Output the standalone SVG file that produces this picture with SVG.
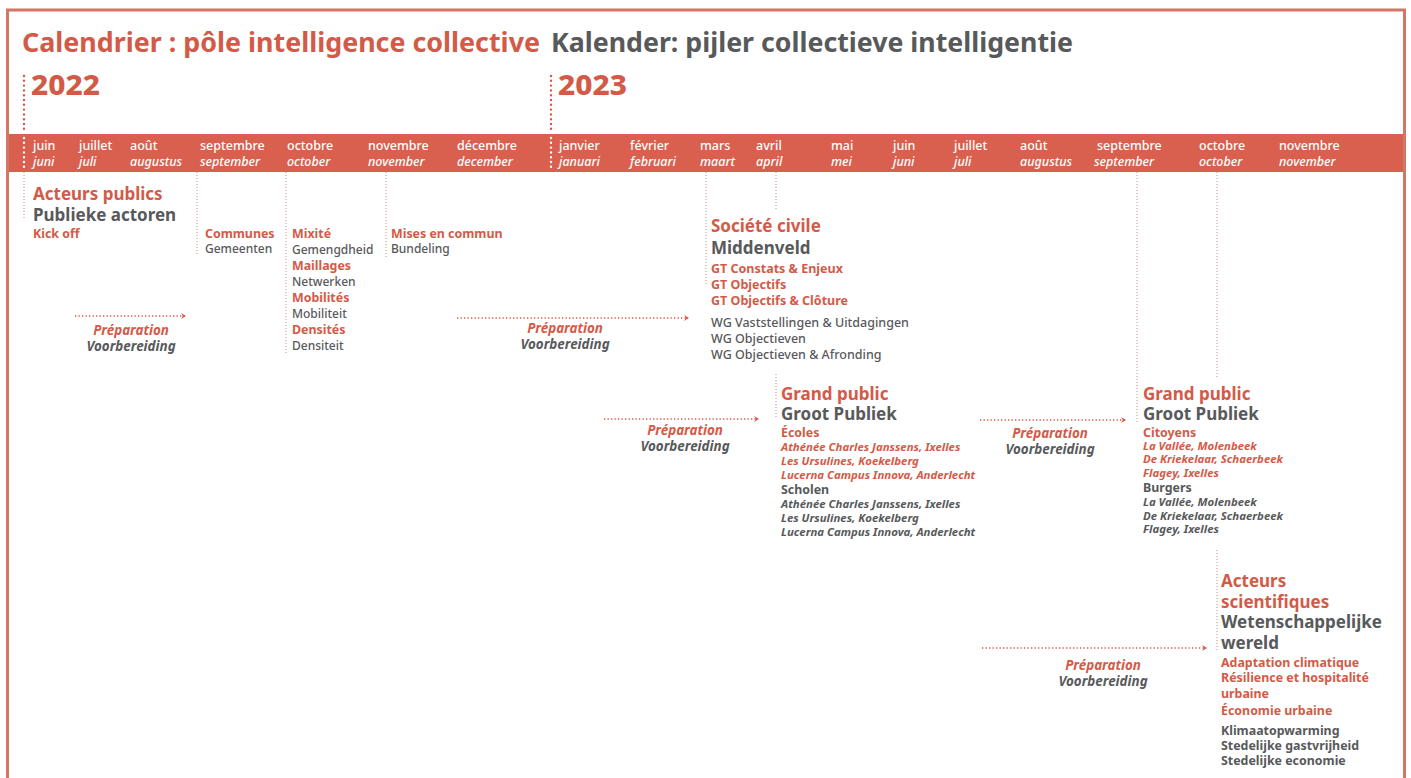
<svg xmlns="http://www.w3.org/2000/svg" width="1411" height="778" viewBox="0 0 1411 778">
<style>
text{font-family:"Noto Sans","Open Sans","DejaVu Sans",sans-serif}
.c{fill:#d45a48}
.g{fill:#58595b}
.w{fill:#ffffff}
.title{font-size:26px;font-weight:700}
.year{font-size:28px;font-weight:800}
.m{font-size:12.5px;font-weight:500}
.mi{font-size:12.5px;font-weight:500;font-style:italic}
.h{font-size:17px;font-weight:700}
.h2{font-size:17px;font-weight:700}
.b{font-size:12.4px;font-weight:700}
.r{font-size:12px;font-weight:500}
.r13{font-size:12.5px;font-weight:500}
.b13{font-size:12.5px;font-weight:700}
.it{font-size:11.4px;font-weight:700;font-style:italic}
.p{font-size:13.4px;font-weight:700;font-style:italic;text-anchor:middle}
.vl{stroke:#c98a7f;stroke-width:1;stroke-dasharray:1 2;fill:none}
.yd{stroke-width:2.4;stroke-linecap:round;stroke-dasharray:0 4.8;fill:none}
.arr{stroke:#d45a48;stroke-width:1.3;stroke-dasharray:1.3 2.2;fill:none;marker-end:url(#ah)}
</style>
<defs>
<marker id="ah" markerWidth="7" markerHeight="7" refX="4" refY="3" orient="auto" markerUnits="userSpaceOnUse">
<path d="M0,0 L5,3 L0,6 L1.8,3 z" fill="#d45a48"/>
</marker>
</defs>
<rect x="0" y="0" width="1411" height="778" fill="#ffffff"/>
<rect id="frame" x="7.5" y="10" width="1397" height="800" fill="none" stroke="#d27765" stroke-width="3"/>
<g id="title">
<text x="22" y="52" class="title c" textLength="518" lengthAdjust="spacingAndGlyphs">Calendrier : pôle intelligence collective</text>
<text x="551" y="52" class="title g" textLength="522" lengthAdjust="spacingAndGlyphs">Kalender: pijler collectieve intelligentie</text>
</g>
<g id="timeline">
<rect x="9" y="134" width="1394" height="38" fill="#d9604e"/>
<text x="31" y="95" class="year c" textLength="69" lengthAdjust="spacingAndGlyphs">2022</text>
<text x="558" y="95" class="year c" textLength="69" lengthAdjust="spacingAndGlyphs">2023</text>
<path class="yd" d="M24,76 V132" stroke="#d45a48"/>
<path class="yd" d="M24,138 V170" stroke="#ffffff"/>
<path class="yd" d="M551,76 V132" stroke="#d45a48"/>
<path class="yd" d="M551,138 V170" stroke="#ffffff"/>
<g class="w">
<text x="33" y="150" class="m">juin</text><text x="33" y="166" class="mi">juni</text>
<text x="79" y="150" class="m">juillet</text><text x="79" y="166" class="mi">juli</text>
<text x="130" y="150" class="m">août</text><text x="130" y="166" class="mi">augustus</text>
<text x="200" y="150" class="m">septembre</text><text x="200" y="166" class="mi">september</text>
<text x="287" y="150" class="m">octobre</text><text x="287" y="166" class="mi">october</text>
<text x="368" y="150" class="m">novembre</text><text x="368" y="166" class="mi">november</text>
<text x="457" y="150" class="m">décembre</text><text x="457" y="166" class="mi">december</text>
<text x="559" y="150" class="m">janvier</text><text x="559" y="166" class="mi">januari</text>
<text x="630" y="150" class="m">février</text><text x="630" y="166" class="mi">februari</text>
<text x="700" y="150" class="m">mars</text><text x="700" y="166" class="mi">maart</text>
<text x="756" y="150" class="m">avril</text><text x="756" y="166" class="mi">april</text>
<text x="831" y="150" class="m">mai</text><text x="831" y="166" class="mi">mei</text>
<text x="893" y="150" class="m">juin</text><text x="893" y="166" class="mi">juni</text>
<text x="954" y="150" class="m">juillet</text><text x="954" y="166" class="mi">juli</text>
<text x="1020" y="150" class="m">août</text><text x="1020" y="166" class="mi">augustus</text>
<text x="1097" y="150" class="m">septembre</text><text x="1094" y="166" class="mi">september</text>
<text x="1199" y="150" class="m">octobre</text><text x="1199" y="166" class="mi">october</text>
<text x="1279" y="150" class="m">novembre</text><text x="1279" y="166" class="mi">november</text>
</g>
</g>
<g id="connectors">
<path class="vl" d="M24,172 V220"/>
<path class="vl" d="M197,172 V255"/>
<path class="vl" d="M286,172 V355"/>
<path class="vl" d="M386,172 V258"/>
<path class="vl" d="M706,172 V285"/>
<path class="vl" d="M776,172 V209"/>
<path class="vl" d="M776,374 V418"/>
<path class="vl" d="M1137,172 V422"/>
<path class="vl" d="M1217,172 V377"/>
<path class="vl" d="M1217,550 V650"/>
<path class="arr" d="M75,316 H185"/>
<path class="arr" d="M457,318 H688"/>
<path class="arr" d="M604,419 H758"/>
<path class="arr" d="M980,420 H1125"/>
<path class="arr" d="M982,648 H1206"/>
</g>
<g id="acteurs-publics">
<text x="33" y="200" class="h c">Acteurs publics</text>
<text x="33" y="221" class="h2 g">Publieke actoren</text>
<text x="33" y="238" class="b c">Kick off</text>
</g>
<g id="communes">
<text x="205" y="238" class="b c">Communes</text>
<text x="205" y="253" class="r g">Gemeenten</text>
</g>
<g id="mixite">
<text x="292" y="238" class="b c">Mixité</text>
<text x="292" y="254" class="r g">Gemengdheid</text>
<text x="292" y="270" class="b c">Maillages</text>
<text x="292" y="286" class="r g">Netwerken</text>
<text x="292" y="302" class="b c">Mobilités</text>
<text x="292" y="318" class="r g">Mobiliteit</text>
<text x="292" y="334" class="b c">Densités</text>
<text x="292" y="350" class="r g">Densiteit</text>
</g>
<g id="mises-en-commun">
<text x="391" y="238" class="b c">Mises en commun</text>
<text x="391" y="253" class="r g">Bundeling</text>
</g>
<g id="prep-1">
<text x="131" y="335" class="p c">Préparation</text>
<text x="131" y="351" class="p g">Voorbereiding</text>
</g>
<g id="prep-2">
<text x="565" y="333" class="p c">Préparation</text>
<text x="565" y="349" class="p g">Voorbereiding</text>
</g>
<g id="societe-civile">
<text x="711" y="232" class="h c">Société civile</text>
<text x="711" y="254" class="h2 g">Middenveld</text>
<text x="711" y="273" class="b13 c">GT Constats &amp; Enjeux</text>
<text x="711" y="289" class="b13 c">GT Objectifs</text>
<text x="711" y="305" class="b13 c">GT Objectifs &amp; Clôture</text>
<text x="711" y="327" class="r13 g">WG Vaststellingen &amp; Uitdagingen</text>
<text x="711" y="343" class="r13 g">WG Objectieven</text>
<text x="711" y="359" class="r13 g">WG Objectieven &amp; Afronding</text>
</g>
<g id="prep-3">
<text x="685" y="435" class="p c">Préparation</text>
<text x="685" y="451" class="p g">Voorbereiding</text>
</g>
<g id="grand-public-ecoles">
<text x="781" y="400" class="h c">Grand public</text>
<text x="781" y="420" class="h2 g">Groot Publiek</text>
<text x="781" y="437" class="b c">Écoles</text>
<text x="781" y="451" class="it c">Athénée Charles Janssens, Ixelles</text>
<text x="781" y="465" class="it c">Les Ursulines, Koekelberg</text>
<text x="781" y="479" class="it c">Lucerna Campus Innova, Anderlecht</text>
<text x="781" y="494" class="b g">Scholen</text>
<text x="781" y="508" class="it g">Athénée Charles Janssens, Ixelles</text>
<text x="781" y="522" class="it g">Les Ursulines, Koekelberg</text>
<text x="781" y="536" class="it g">Lucerna Campus Innova, Anderlecht</text>
</g>
<g id="prep-4">
<text x="1050" y="438" class="p c">Préparation</text>
<text x="1050" y="454" class="p g">Voorbereiding</text>
</g>
<g id="grand-public-citoyens">
<text x="1143" y="400" class="h c">Grand public</text>
<text x="1143" y="420" class="h2 g">Groot Publiek</text>
<text x="1143" y="437" class="b c">Citoyens</text>
<text x="1143" y="450" class="it c">La Vallée, Molenbeek</text>
<text x="1143" y="463" class="it c">De Kriekelaar, Schaerbeek</text>
<text x="1143" y="477" class="it c">Flagey, Ixelles</text>
<text x="1143" y="492" class="b g">Burgers</text>
<text x="1143" y="506" class="it g">La Vallée, Molenbeek</text>
<text x="1143" y="520" class="it g">De Kriekelaar, Schaerbeek</text>
<text x="1143" y="533" class="it g">Flagey, Ixelles</text>
</g>
<g id="prep-5">
<text x="1103" y="670" class="p c">Préparation</text>
<text x="1103" y="686" class="p g">Voorbereiding</text>
</g>
<g id="acteurs-scientifiques">
<text x="1221" y="587" class="h c">Acteurs</text>
<text x="1221" y="608" class="h c">scientifiques</text>
<text x="1221" y="628" class="h2 g">Wetenschappelijke</text>
<text x="1221" y="649" class="h2 g">wereld</text>
<text x="1221" y="667" class="b c">Adaptation climatique</text>
<text x="1221" y="682" class="b c">Résilience et hospitalité</text>
<text x="1221" y="698" class="b c">urbaine</text>
<text x="1221" y="715" class="b c">Économie urbaine</text>
<text x="1221" y="735" class="b g">Klimaatopwarming</text>
<text x="1221" y="750" class="b g">Stedelijke gastvrijheid</text>
<text x="1221" y="765" class="b g">Stedelijke economie</text>
</g>
</svg>
